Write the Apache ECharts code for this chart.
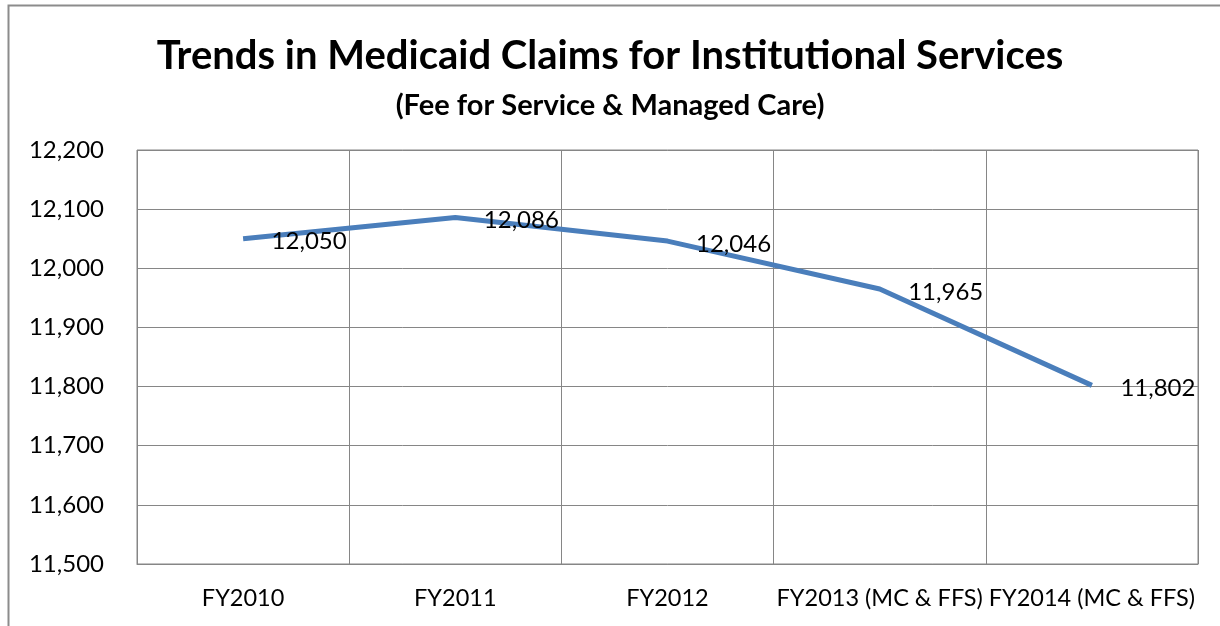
<!DOCTYPE html>
<html>
<head>
<meta charset="utf-8">
<script src="https://cdn.jsdelivr.net/npm/echarts@6/dist/echarts.min.js"></script>
<style>
  html, body { margin: 0; padding: 0; background: #fff; }
  #chart { width: 1220px; height: 626px; }
</style>
</head>
<body>
<div id="chart"></div>
<script>
// 数据
const categories = ['FY2010', 'FY2011', 'FY2012', 'FY2013 (MC & FFS)', 'FY2014 (MC & FFS)'];
const claims = [12050, 12086, 12046, 11965, 11802];
const yTicks = [11500, 11600, 11700, 11800, 11900, 12000, 12100, 12200];

const fontFamily = 'Lato, "Open Sans", sans-serif';
const fmt = v => v.toLocaleString('en-US');

const chart = echarts.init(document.getElementById('chart'), null, { renderer: 'canvas' });

const option = {
  backgroundColor: '#ffffff',
  animation: false,
  title: [{
    text: 'Trends in Medicaid Claims for Institutional Services',
    left: 'center',
    top: 31,
    textStyle: { fontFamily, fontSize: 40, fontWeight: 'bold', color: '#000' }
  }, {
    text: '(Fee for Service & Managed Care)',
    left: 'center',
    top: 86,
    textStyle: { fontFamily, fontSize: 29, fontWeight: 'bold', color: '#000' }
  }],
  graphic: [{
    type: 'polyline',
    shape: { points: [[8.5, 626], [8.5, 5.5], [1220, 5.5]] },
    style: { stroke: '#8c8c8c', lineWidth: 2, fill: null }
  }],
  grid: { left: 137, right: 22, top: 150, bottom: 62, show: true, borderColor: '#868686', borderWidth: 1 },
  xAxis: {
    type: 'category',
    data: categories,
    boundaryGap: true,
    axisLine: { show: true, lineStyle: { color: '#868686' } },
    axisTick: { show: false },
    splitLine: { show: true, lineStyle: { color: '#868686', width: 1 } },
    axisLabel: { fontFamily, fontSize: 23.5, color: '#000', margin: 22, interval: 0 }
  },
  yAxis: {
    type: 'value',
    min: yTicks[0],
    max: yTicks[yTicks.length - 1],
    interval: 100,
    axisLine: { show: false },
    axisTick: { show: false },
    splitLine: { lineStyle: { color: '#868686', width: 1 } },
    axisLabel: { fontFamily, fontSize: 24, color: '#000', margin: 33, formatter: fmt }
  },
  series: [{
    type: 'line',
    data: claims,
    symbol: 'circle',
    symbolSize: 1,
    itemStyle: { color: 'rgba(0,0,0,0)' },
    lineStyle: { color: '#4a7ebb', width: 5 },
    label: {
      show: true,
      position: 'right',
      distance: 28,
      offset: [0, 3],
      fontFamily,
      fontSize: 24,
      color: '#000',
      formatter: p => fmt(p.value)
    }
  }]
};

chart.setOption(option);
</script>
</body>
</html>
